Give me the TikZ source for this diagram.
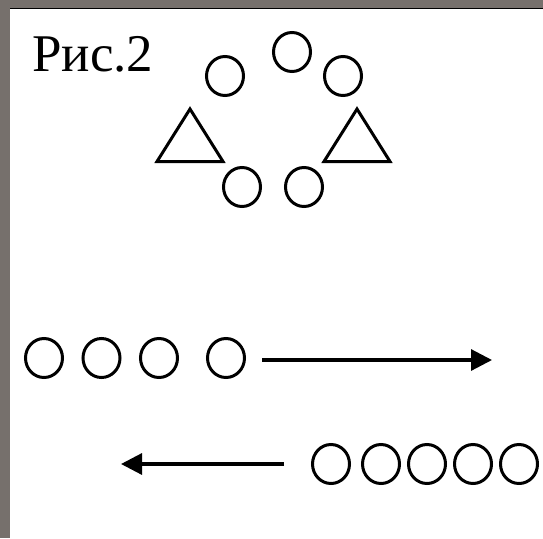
\documentclass[tikz,border=0pt]{standalone}
\usepackage{fontspec}
\setmainfont{Liberation Serif}
\usetikzlibrary{arrows.meta,shapes.geometric}
\definecolor{framegray}{RGB}{118,112,108}
\begin{document}
\begin{tikzpicture}[x=1pt,y=-1pt,
  ring/.style={draw=black,line width=3pt,ellipse,minimum width=37pt,minimum height=39pt,inner sep=0pt},
  tri/.style={draw=black,line width=3pt,line join=miter},
  arr/.style={line width=3.2pt,-{Triangle[length=21pt,width=21pt]}}]
\useasboundingbox (0,0) rectangle (543,538);
\fill[white] (0,0) rectangle (543,538);
\fill[framegray] (0,0) rectangle (543,8);
\fill[framegray] (0,0) rectangle (10,538);
\draw[black,line width=1.5pt] (10,8.5) -- (543,8.5);
\node[anchor=base west,inner sep=0pt,font=\rmfamily\fontsize{53}{60}\selectfont] (title) at (32,71) {Рис.2};
% top group
\node[ring] (c1) at (225,76) {};
\node[ring] (c2) at (292,52) {};
\node[ring] (c3) at (343,76) {};
\node[ring] (c4) at (242,187) {};
\node[ring] (c5) at (304,187) {};
\draw[tri] (190,109) -- (157,161.5) -- (223,161.5) -- cycle;
\draw[tri] (357,109) -- (324,161.5) -- (390,161.5) -- cycle;
% row 1
\node[ring] (r1) at (44,358) {};
\node[ring] (r2) at (101.5,358) {};
\node[ring] (r3) at (159,358) {};
\node[ring] (r4) at (226,358) {};
\coordinate (a1s) at (262,360);
\coordinate (a1e) at (492,360);
\draw[arr] (a1s) -- (a1e);
% row 2
\node[ring] (s1) at (331,464) {};
\node[ring] (s2) at (381,464) {};
\node[ring] (s3) at (427,464) {};
\node[ring] (s4) at (473,464) {};
\node[ring] (s5) at (519,464) {};
\coordinate (a2s) at (284,464);
\coordinate (a2e) at (121,464);
\draw[arr] (a2s) -- (a2e);
\end{tikzpicture}
\end{document}
